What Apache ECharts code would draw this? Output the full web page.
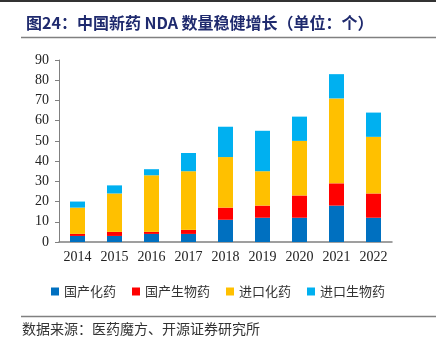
<!DOCTYPE html>
<html><head><meta charset="utf-8">
<script src="https://cdn.jsdelivr.net/npm/echarts@6/dist/echarts.min.js"></script>
<style>html,body{margin:0;padding:0;background:#fff}#c{width:436px;height:345px}</style>
</head><body><div id="c"></div>
<script>
const years = ['2014','2015','2016','2017','2018','2019','2020','2021','2022'];
const seriesNames = ['国产化药','国产生物药','进口化药','进口生物药'];
const domesticChem = [3,3,4,4,11,12,12,18,12];
const domesticBio = [1,2,1,2,6,6,11,11,12];
const importChem = [13,19,28,29,25,17,27,42,28];
const importBio = [3,4,3,9,15,20,12,12,12];
const colors = ['#0070C0','#FF0000','#FFC000','#00B0F0'];
const titleText = '图24：中国新药 NDA 数量稳健增长（单位：个）';
const sourceText = '数据来源：医药魔方、开源证券研究所';

const chart = echarts.init(document.getElementById('c'), null, {renderer:'canvas'});
const dataSets = [domesticChem, domesticBio, importChem, importBio];
chart.setOption({
  animation:false,
  color: colors,
  title:{
    text:titleText, left:21, top:10,
    textStyle:{fontFamily:'Noto Sans CJK SC', fontSize:16, fontWeight:'bold', color:'#1F2A6E'}
  },
  grid:{left:59, right:44, top:60, bottom:103, containLabel:false},
  legend:{
    bottom:42, left:'center', itemWidth:8, itemHeight:8, itemGap:16, icon:'rect',
    textStyle:{fontFamily:'Noto Sans CJK SC', fontSize:13, color:'#333'},
    data: seriesNames
  },
  xAxis:{
    type:'category', data:years,
    axisLine:{lineStyle:{color:'#808080', width:1.5}},
    axisTick:{inside:true, length:5, lineStyle:{color:'#555'}},
    axisLabel:{fontFamily:'Liberation Serif', fontSize:14, color:'#222', margin:8}
  },
  yAxis:{
    type:'value', min:0, max:90, interval:10,
    axisLine:{show:true, lineStyle:{color:'#808080'}},
    axisTick:{show:true, length:4, lineStyle:{color:'#808080'}},
    splitLine:{show:false},
    axisLabel:{fontFamily:'Liberation Serif', fontSize:14, color:'#222', margin:10}
  },
  series: seriesNames.map((n,i)=>({
    name:n, type:'bar', stack:'total', data:dataSets[i], barWidth:15
  })),
  graphic:[
    {type:'line', shape:{x1:0,y1:1,x2:436,y2:1}, style:{stroke:'#333', lineWidth:2}},
    {type:'line', shape:{x1:21,y1:37.5,x2:436,y2:37.5}, style:{stroke:'#808080', lineWidth:1.5}},
    {type:'line', shape:{x1:21,y1:316.5,x2:436,y2:316.5}, style:{stroke:'#808080', lineWidth:1.5}},
    {type:'text', left:22, top:322, style:{text:sourceText, font:'14px "Noto Sans CJK SC"', fill:'#333'}}
  ]
});
</script></body></html>
